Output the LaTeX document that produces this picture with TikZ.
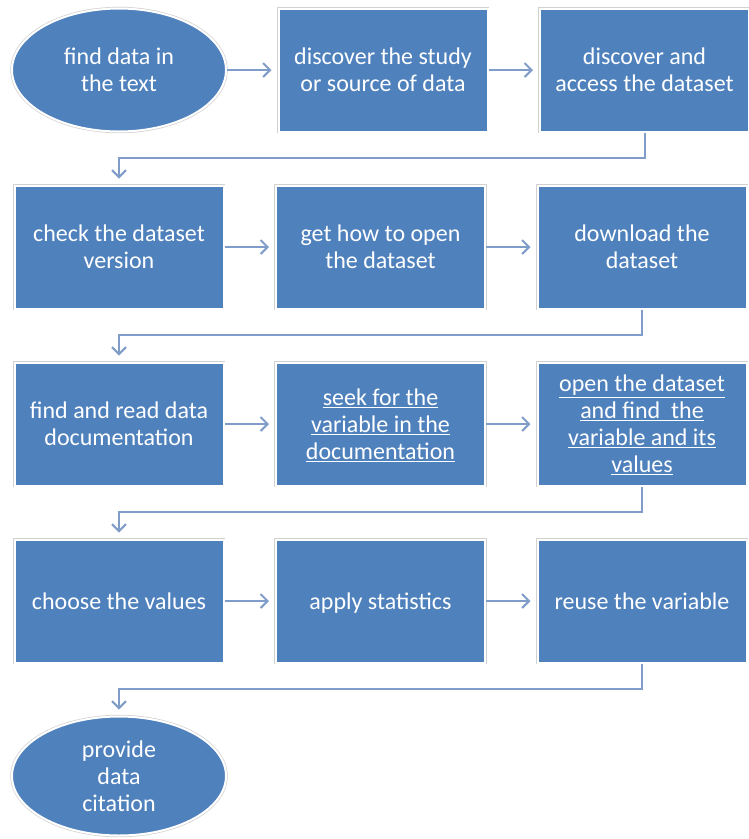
\documentclass[tikz,border=0pt]{standalone}
\usepackage{fontspec}
\setmainfont{Carlito}
\usetikzlibrary{arrows.meta,positioning,shapes.geometric}
\definecolor{boxblue}{RGB}{79,129,189}
\definecolor{flowblue}{RGB}{127,157,200}
\newcommand{\uln}[1]{\underline{#1}}
\tikzset{
base/.style={fill=boxblue,draw=white,line width=2pt,preaction={draw=black!18,line width=3.4pt},text=white,align=center,font=\fontsize{24}{27}\selectfont,text depth=0pt},
task/.style={base,rectangle,minimum width=209pt,minimum height=123pt,inner sep=2pt},
terminal/.style={base,ellipse,minimum width=214pt,minimum height=123pt,inner sep=0pt},
flow/.style={-{Straight Barb[length=7pt,width=14pt]},line width=2pt,draw=flowblue,shorten >=6pt}
}
\begin{document}
\begin{tikzpicture}[x=1pt,y=1pt,node distance=52pt and 50.5pt]
\useasboundingbox (0,0) rectangle (748,-839);
\node[terminal] (find) at (119,-70) {find data in\\the text};
\node[task,right=of find] (study) {discover the study\\or source of data};
\node[task,right=of study] (access) {discover and\\access the dataset};
\node[task,below=of find] (version) {check the dataset\\version};
\node[task,right=of version] (howopen) {get how to open\\the dataset};
\node[task,right=of howopen] (download) {download the\\dataset};
\node[task,below=of version] (readdoc) {find and read data\\documentation};
\node[task,right=of readdoc] (seek) {\uln{seek for the}\\\uln{variable in the}\\\uln{documentation}};
\node[task,right=of seek] (openset) {\uln{open the dataset}\\\uln{and find~ the}\\\uln{variable and its}\\\uln{values}};
\node[task,below=of readdoc] (choose) {choose the values};
\node[task,right=of choose] (stats) {apply statistics};
\node[task,right=of stats] (reuse) {reuse the variable};
\node[terminal,minimum height=119pt,below=of choose] (cite) {provide\\data\\citation};
\draw[flow](find)--(study);\draw[flow](study)--(access);
\draw[flow](access.south)--++(0,-25)-|(version.north);
\draw[flow](version)--(howopen);\draw[flow](howopen)--(download);
\draw[flow](download.south)--++(0,-25)-|(readdoc.north);
\draw[flow](readdoc)--(seek);\draw[flow](seek)--(openset);
\draw[flow](openset.south)--++(0,-25)-|(choose.north);
\draw[flow](choose)--(stats);\draw[flow](stats)--(reuse);
\draw[flow](reuse.south)--++(0,-25)-|(cite.north);
\end{tikzpicture}
\end{document}
